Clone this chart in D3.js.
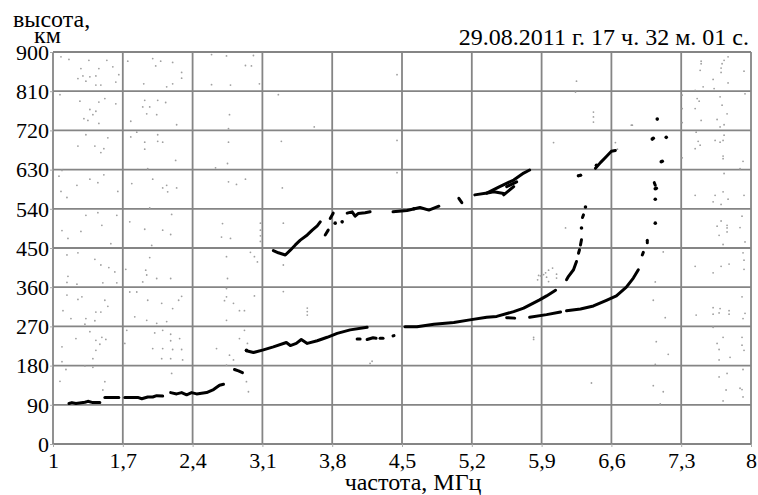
<!DOCTYPE html>
<html>
<head>
<meta charset="utf-8">
<script src="https://cdn.jsdelivr.net/npm/d3@7"></script>
<style>
  body { margin: 0; background: #fff; }
  svg text { font-family: "Liberation Serif", "DejaVu Serif", serif; fill: #000; }
</style>
</head>
<body>
<svg id="chart" width="758" height="495"></svg>
<script>
// axis ticks
var freqTicks = [1, 1.7, 2.4, 3.1, 3.8, 4.5, 5.2, 5.9, 6.6, 7.3, 8];
var heightTicks = [0, 90, 180, 270, 360, 450, 540, 630, 720, 810, 900];
var stamp = "29.08.2011 г. 17 ч. 32 м. 01 с.";

// E-layer trace [MHz, km], split where the record breaks
var traceE = [
  [[1.16, 93], [1.19, 95], [1.23, 93], [1.32, 96], [1.35, 98], [1.40, 95], [1.47, 95]],
  [[1.52, 107], [1.66, 107]],
  [[1.72, 107], [1.85, 107], [1.89, 104], [1.95, 108], [2.00, 108], [2.04, 111], [2.10, 110]],
  [[2.18, 118], [2.24, 115], [2.29, 118], [2.34, 113], [2.39, 118], [2.44, 115], [2.54, 118],
   [2.61, 125], [2.67, 135], [2.71, 137]],
  [[2.82, 171], [2.86, 168], [2.90, 164]]
];

// F-layer ordinary trace
var traceO = [
  [[2.94, 214], [3.01, 210], [3.11, 216], [3.21, 223], [3.34, 233], [3.38, 226], [3.44, 231],
   [3.49, 240], [3.55, 231], [3.65, 237], [3.75, 245], [3.85, 254], [3.98, 262], [4.15, 268]],
  [[4.05, 241], [4.08, 241]],
  [[4.15, 240], [4.21, 244], [4.24, 243]],
  [[4.28, 243], [4.31, 243]],
  [[4.41, 248], [4.42, 249]],
  [[4.53, 269], [4.65, 269], [4.82, 275], [5.02, 279], [5.18, 285], [5.35, 291], [5.45, 293],
   [5.62, 304], [5.72, 312], [5.88, 331], [5.95, 340], [6.04, 353]],
  [[6.15, 377], [6.17, 385], [6.22, 400], [6.25, 419]],
  [[6.27, 438], [6.28, 446]],
  [[6.29, 457], [6.30, 469]],
  [[6.31, 520], [6.32, 526]],
  [[6.44, 633], [6.49, 646], [6.55, 660], [6.60, 672], [6.64, 674]]
];

// F-layer extraordinary trace
var traceX = [
  [[5.55, 290], [5.63, 289]],
  [[5.78, 291], [5.95, 297], [6.09, 303]],
  [[6.15, 306], [6.29, 310], [6.42, 317], [6.55, 330], [6.65, 340], [6.75, 360], [6.82, 381], [6.87, 400]],
  [[6.91, 434], [6.92, 440]],
  [[6.96, 462], [6.96, 468]],
  [[7.04, 594], [7.03, 600]]
];

// upper (multiple reflection) trace
var traceUpper = [
  [[3.21, 444], [3.26, 439], [3.33, 434], [3.38, 445], [3.43, 457], [3.48, 468], [3.55, 480],
   [3.60, 491], [3.65, 501], [3.68, 510]],
  [[3.73, 480], [3.76, 491]],
  [[3.78, 518], [3.81, 530]],
  [[3.95, 530], [4.00, 533], [4.03, 523], [4.06, 529], [4.13, 531], [4.18, 533]],
  [[4.41, 533], [4.55, 536], [4.68, 543], [4.77, 537], [4.87, 546]],
  [[5.07, 564], [5.10, 554]],
  [[5.23, 572], [5.37, 577], [5.42, 579], [5.52, 575]],
  [[5.35, 576], [5.48, 591], [5.62, 606], [5.72, 622], [5.78, 629]],
  [[5.52, 572], [5.62, 591]],
  [[5.55, 591], [5.65, 602]]
];

// isolated echoes
var echoes = [
  [2.94, 215], [3.83, 507], [3.90, 510], [4.62, 540], [6.27, 616], [6.29, 617],
  [6.30, 496], [6.34, 544], [7.04, 507], [7.04, 562], [7.05, 587], [7.04, 586],
  [7.11, 649], [7.10, 648], [7.02, 702], [7.01, 700], [7.15, 704], [7.06, 746], [6.45, 640]
];

// faint background noise
var noise = [
  [1.08, 889], [1.16, 883], [1.36, 881], [1.54, 881], [1.28, 862], [1.46, 862], [1.60, 866],
  [1.25, 839], [1.30, 845], [1.37, 843], [1.43, 845], [1.33, 833], [1.66, 848], [1.63, 831],
  [1.43, 824], [1.48, 824], [1.07, 802], [1.27, 787], [1.46, 785], [1.52, 793], [1.63, 781],
  [1.37, 768], [1.40, 756], [1.43, 764], [1.31, 747], [1.35, 743], [1.46, 736], [1.33, 710],
  [1.55, 703], [1.25, 684], [1.42, 684], [1.51, 678], [1.48, 669], [1.06, 615], [1.09, 628],
  [1.37, 608], [1.24, 594], [1.45, 600], [1.51, 618], [1.08, 580], [1.65, 580], [1.14, 566],
  [1.33, 525], [1.45, 531], [1.64, 525], [1.49, 502], [1.09, 490], [1.15, 472], [1.28, 488],
  [1.58, 460],
  [1.75, 879], [2.00, 885], [2.08, 879], [2.20, 876], [2.29, 853], [2.29, 840], [2.03, 868],
  [1.91, 827], [2.14, 820], [2.20, 827], [1.92, 789], [2.05, 789], [2.13, 784], [1.90, 774],
  [1.97, 774], [1.94, 758], [2.04, 756], [1.78, 741], [2.24, 733], [1.84, 716], [1.78, 705],
  [1.92, 693], [1.92, 677], [2.05, 710], [2.05, 695], [2.10, 693], [2.23, 651], [1.95, 632],
  [2.00, 608], [1.79, 598], [2.10, 588], [2.14, 594], [2.15, 579], [2.24, 588], [1.97, 542],
  [1.77, 510], [1.92, 493], [2.10, 491], [2.18, 481], [2.19, 527], [1.99, 456],
  [2.59, 894], [2.74, 891], [2.93, 869], [2.59, 825], [2.78, 824], [2.77, 756], [2.76, 724],
  [2.76, 693], [2.75, 644], [2.63, 634], [2.76, 602], [2.84, 596], [2.93, 608], [2.70, 506],
  [2.69, 475], [2.78, 472],
  [1.14, 434], [1.25, 439], [1.42, 424], [1.48, 411], [1.56, 405], [1.62, 395], [1.15, 385],
  [1.14, 371], [1.50, 370], [1.64, 370], [1.24, 367], [1.14, 342], [1.25, 332], [1.29, 338],
  [1.52, 330], [1.55, 316], [1.10, 306], [1.43, 303], [1.48, 303], [1.33, 288], [1.18, 288],
  [1.42, 283], [1.32, 275], [1.37, 258], [1.49, 245], [1.23, 242], [1.43, 238], [1.53, 240],
  [1.09, 223], [1.47, 229], [1.43, 215], [1.40, 196], [1.09, 189], [1.32, 179], [1.13, 171],
  [1.40, 176], [1.52, 143], [1.07, 144], [1.50, 124],
  [1.73, 401], [1.97, 428], [1.93, 399], [1.94, 388], [2.04, 380], [2.18, 380], [1.90, 372],
  [1.77, 349], [1.84, 349], [1.95, 330], [2.09, 323], [2.29, 339], [2.26, 330], [2.20, 311],
  [1.82, 292], [1.94, 284], [2.04, 277], [2.14, 281], [1.74, 261], [2.10, 261], [2.02, 255],
  [2.18, 252], [2.27, 242], [2.18, 237], [1.72, 231], [2.00, 219], [2.10, 219], [2.20, 217],
  [2.29, 217], [2.09, 196], [2.18, 196], [2.30, 193], [2.19, 162],
  [2.74, 430], [2.75, 380], [2.74, 357], [2.74, 338], [2.72, 329], [2.81, 323], [2.87, 306],
  [2.92, 306], [2.74, 284], [2.92, 261], [2.87, 242], [2.95, 231], [2.64, 219], [2.77, 204],
  [2.81, 193], [2.74, 181], [2.94, 143], [2.96, 120],
  [3.01, 892], [2.99, 868], [3.07, 827], [3.26, 802], [3.62, 728], [3.29, 695], [4.45, 848],
  [4.45, 697], [4.45, 623], [6.25, 833], [6.24, 808], [6.42, 762], [6.42, 751], [6.42, 739],
  [6.02, 692], [6.81, 732], [6.64, 692], [6.80, 732], [6.66, 677], [3.30, 588], [3.08, 507],
  [3.08, 491], [3.08, 478], [3.08, 465], [3.31, 507], [2.98, 440], [3.02, 430], [3.05, 418],
  [3.31, 411], [3.02, 340], [3.31, 350], [3.55, 312], [3.55, 304], [3.55, 296], [5.82, 245],
  [5.82, 240], [5.87, 387], [6.14, 496], [4.20, 190], [4.18, 185], [6.40, 140],
  [5.86, 377], [5.89, 386], [5.94, 393], [5.97, 399], [6.01, 404], [5.92, 389], [5.95, 383],
  [6.05, 390], [6.05, 381], [5.97, 373],
  [7.12, 441], [7.04, 372], [7.02, 330], [7.14, 290], [7.05, 235], [7.17, 206], [7.04, 183],
  [7.02, 134], [7.12, 120], [7.09, 92],
  [7.50, 879], [7.50, 873], [7.71, 873], [7.73, 881], [7.77, 889], [7.70, 863], [7.49, 858],
  [7.93, 856], [7.70, 853], [7.62, 837], [7.77, 829], [7.52, 820], [7.63, 816], [7.44, 812],
  [7.46, 793], [7.31, 801], [7.48, 787], [7.69, 797], [7.94, 804], [7.71, 778], [7.44, 770],
  [7.31, 770], [7.76, 758], [7.66, 745], [7.50, 743], [7.73, 733], [7.69, 728], [7.31, 738],
  [7.45, 716], [7.73, 709], [7.72, 697], [7.47, 695], [7.64, 697], [7.69, 693], [7.49, 686],
  [7.44, 678], [7.72, 661], [7.72, 655], [7.92, 649], [7.31, 657], [7.89, 632], [7.73, 621],
  [7.44, 571], [7.64, 571], [7.72, 579], [7.77, 562], [7.93, 571], [7.62, 556], [7.70, 550],
  [7.91, 523], [7.70, 512], [7.76, 502], [7.76, 496], [7.66, 500], [7.89, 497], [7.68, 479],
  [7.76, 487], [7.94, 464], [7.72, 458],
  [7.92, 439], [7.93, 422], [7.78, 413], [7.70, 408], [7.44, 408], [7.62, 393], [7.93, 401],
  [7.91, 338], [7.62, 313], [7.69, 311], [7.78, 306], [7.78, 298], [7.62, 298], [7.68, 301],
  [7.45, 296], [7.94, 300], [7.92, 288], [7.62, 268], [7.72, 245], [7.66, 231], [7.91, 245],
  [7.91, 227], [7.93, 215], [7.68, 217], [7.79, 199], [7.68, 193], [7.92, 171], [7.76, 162],
  [7.68, 154], [7.75, 124], [7.89, 128], [7.91, 125], [7.92, 108], [7.72, 99]
];

var svg = d3.select("#chart"),
    plotLeft = 53, plotRight = 751, plotTop = 52, plotBottom = 444;

var x = d3.scaleLinear().domain([1, 8]).range([plotLeft, plotRight]);
var y = d3.scaleLinear().domain([0, 900]).range([plotBottom, plotTop]);

var ru = d3.formatLocale({decimal: ",", thousands: " ", grouping: [3], currency: ["", ""]});
var fmt = function(d) { return Number.isInteger(d) ? String(d) : ru.format(".1f")(d); };

// grid
svg.append("g")
  .selectAll("line")
  .data(freqTicks)
  .enter().append("line")
    .attr("x1", function(d) { return x(d); })
    .attr("x2", function(d) { return x(d); })
    .attr("y1", plotTop).attr("y2", plotBottom)
    .attr("stroke", "#858585").attr("stroke-width", 1.8);

svg.append("g")
  .selectAll("line")
  .data(heightTicks)
  .enter().append("line")
    .attr("x1", plotLeft).attr("x2", plotRight)
    .attr("y1", function(d) { return y(d); })
    .attr("y2", function(d) { return y(d); })
    .attr("stroke", "#858585").attr("stroke-width", 1.8);

// axes (ticks + labels only)
var xAxis = svg.append("g")
    .attr("transform", "translate(0," + plotBottom + ")")
    .call(d3.axisBottom(x).tickValues(freqTicks).tickFormat(fmt).tickSize(3).tickPadding(1));
var yAxis = svg.append("g")
    .attr("transform", "translate(" + plotLeft + ",0)")
    .call(d3.axisLeft(y).tickValues(heightTicks).tickSize(3).tickPadding(1));

[xAxis, yAxis].forEach(function(a) {
  a.select(".domain").remove();
  a.selectAll(".tick line").attr("stroke", "#aaa");
  a.selectAll("text")
    .attr("font-family", "Liberation Serif, serif")
    .attr("font-size", 22)
    .attr("fill", "#000");
});
xAxis.selectAll("text").attr("dy", "0.9em");
yAxis.selectAll("text").attr("dy", "0.33em");

// noise
svg.append("g")
  .selectAll("circle")
  .data(noise)
  .enter().append("circle")
    .attr("cx", function(d) { return x(d[0]); })
    .attr("cy", function(d) { return y(d[1]); })
    .attr("r", 0.9)
    .attr("fill", "#a0a0a0");

// traces
var line = d3.line()
    .x(function(d) { return x(d[0]); })
    .y(function(d) { return y(d[1]); });

var allTraces = traceE.concat(traceO, traceX, traceUpper);
svg.append("g")
  .selectAll("path")
  .data(allTraces)
  .enter().append("path")
    .attr("d", line)
    .attr("fill", "none")
    .attr("stroke", "#000")
    .attr("stroke-width", 3)
    .attr("stroke-linecap", "round")
    .attr("stroke-linejoin", "round");

svg.append("g")
  .selectAll("circle")
  .data(echoes)
  .enter().append("circle")
    .attr("cx", function(d) { return x(d[0]); })
    .attr("cy", function(d) { return y(d[1]); })
    .attr("r", 1.8)
    .attr("fill", "#000");

// titles
var serif = "Liberation Serif, serif";
svg.append("text")
    .attr("x", 13).attr("y", 27)
    .attr("font-family", serif).attr("font-size", 24)
    .text("высота,");
svg.append("text")
    .attr("x", 34).attr("y", 43)
    .attr("font-family", serif).attr("font-size", 24)
    .text("км");
svg.append("text")
    .attr("x", 749).attr("y", 45)
    .attr("text-anchor", "end")
    .attr("font-family", serif).attr("font-size", 24)
    .text(stamp);
svg.append("text")
    .attr("x", 413).attr("y", 490)
    .attr("text-anchor", "middle")
    .attr("font-family", serif).attr("font-size", 24)
    .text("частота, МГц");
</script>
</body>
</html>
